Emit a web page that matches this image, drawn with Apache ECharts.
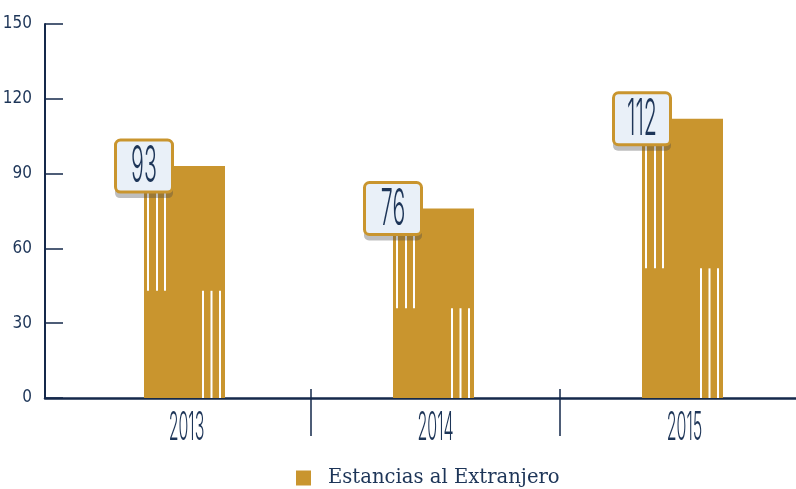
<!DOCTYPE html>
<html>
<head>
<meta charset="utf-8">
<script src="https://cdn.jsdelivr.net/npm/echarts@6/dist/echarts.min.js"></script>
<style>
  html, body { margin: 0; padding: 0; background: #ffffff; }
  #chart { width: 796px; height: 489px; }
</style>
</head>
<body>
<div id="chart"></div>
<script>
  // datos
  var years = ['2013', '2014', '2015'];
  var estancias = [93, 76, 112];
  // altura donde cambian las rayas blancas
  var stripeSplit = [43, 36, 52];
  var yTicks = [0, 30, 60, 90, 120, 150];

  var gold = '#C9952E';
  var navy = '#15294B';
  var textNavy = '#1D3558';
  var narrow = "'DejaVu Sans Condensed', 'Liberation Sans Narrow', sans-serif";
  var thin = "Inter, 'DejaVu Sans', sans-serif";

  var chart = echarts.init(document.getElementById('chart'));

  var seriesData = years.map(function (y, i) {
    return [i, estancias[i], stripeSplit[i]];
  });

  function renderBar(params, api) {
    var base = api.coord([api.value(0), 0]);
    var top = api.coord([api.value(0), api.value(1)]);
    var mid = api.coord([api.value(0), api.value(2)]);
    var bw = 81;
    var left = base[0] - 42.5;
    var children = [];
    children.push({
      type: 'rect',
      shape: { x: left, y: top[1], width: bw, height: base[1] - top[1] },
      style: { fill: gold }
    });
    [3, 12, 20].forEach(function (dx) {
      children.push({
        type: 'rect',
        shape: { x: left + dx, y: top[1], width: 2, height: mid[1] - top[1] },
        style: { fill: '#ffffff' }
      });
    });
    [58, 66.5, 75].forEach(function (dx) {
      children.push({
        type: 'rect',
        shape: { x: left + dx, y: mid[1], width: 2, height: base[1] - mid[1] },
        style: { fill: '#ffffff' }
      });
    });
    // sombra de la etiqueta
    children.push({
      type: 'rect',
      shape: { x: left - 29, y: top[1] - 26 + 5, width: 58, height: 53, r: 5 },
      style: { fill: 'rgba(70,70,70,0.35)' }
    });
    children.push({
      type: 'rect',
      shape: { x: left - 28.5, y: top[1] - 26, width: 57, height: 52, r: 5 },
      style: { fill: '#E9F0F8', stroke: gold, lineWidth: 3 }
    });
    children.push({
      type: 'text',
      x: left, y: top[1] + 1,
      scaleX: 0.42,
      style: {
        text: String(api.value(1)),
        fontFamily: thin,
        fontWeight: 300,
        fontSize: 51,
        fill: textNavy,
        align: 'center',
        verticalAlign: 'middle'
      }
    });
    // etiqueta del año
    children.push({
      type: 'text',
      x: base[0], y: base[1] + 30,
      scaleX: 0.4,
      style: {
        text: years[api.value(0)],
        fontFamily: thin,
        fontWeight: 300,
        fontSize: 40,
        fill: textNavy,
        align: 'center',
        verticalAlign: 'middle'
      }
    });
    return { type: 'group', children: children };
  }

  var option = {
    animation: false,
    legend: {
      data: [{ name: 'Estancias al Extranjero', icon: 'rect' }],
      left: 291,
      top: 463,
      itemWidth: 15,
      itemHeight: 15,
      textStyle: {
        fontFamily: "'DejaVu Serif', serif",
        fontSize: 19.6,
        color: textNavy,
        padding: [0, 0, 0, 12]
      }
    },
    grid: [
      { left: 62, width: 747, top: 24, bottom: 91, outerBoundsMode: 'none' },
      { left: 45, right: 0, top: 24, bottom: 91, outerBoundsMode: 'none' }
    ],
    xAxis: [
      {
        type: 'category', gridIndex: 0, data: years,
        axisLine: { show: false },
        axisTick: {
          show: true, length: 38,
          interval: function (i) { return i > 0; },
          lineStyle: { color: navy, width: 1.5 }
        },
        axisLabel: { show: false }
      },
      {
        type: 'category', gridIndex: 0, data: years, position: 'bottom',
        axisLine: { show: false },
        axisTick: {
          show: true, inside: true, length: 9,
          interval: function (i) { return i > 0; },
          lineStyle: { color: navy, width: 1.5 }
        },
        axisLabel: { show: false }
      },
      {
        type: 'value', gridIndex: 1, min: 0, max: 1,
        axisLine: { show: true, onZero: false, lineStyle: { color: navy, width: 2.5 } },
        axisTick: { show: false },
        axisLabel: { show: false },
        splitLine: { show: false }
      }
    ],
    yAxis: [
      {
        type: 'value', gridIndex: 0, min: 0, max: 150, interval: 30, show: false
      },
      {
        type: 'value', gridIndex: 1,
        min: yTicks[0], max: yTicks[yTicks.length - 1], interval: 30,
        axisLine: { show: true, lineStyle: { color: navy, width: 2 } },
        axisTick: { show: true, inside: true, length: 18, lineStyle: { color: navy, width: 1.5 } },
        axisLabel: {
          margin: 13, fontFamily: narrow, fontSize: 17, color: textNavy
        },
        splitLine: { show: false }
      }
    ],
    series: [{
      name: 'Estancias al Extranjero',
      type: 'custom',
      xAxisIndex: 0,
      yAxisIndex: 0,
      itemStyle: { color: gold },
      renderItem: renderBar,
      data: seriesData
    }]
  };

  chart.setOption(option);
  window.addEventListener('resize', function () { chart.resize(); });
</script>
</body>
</html>
